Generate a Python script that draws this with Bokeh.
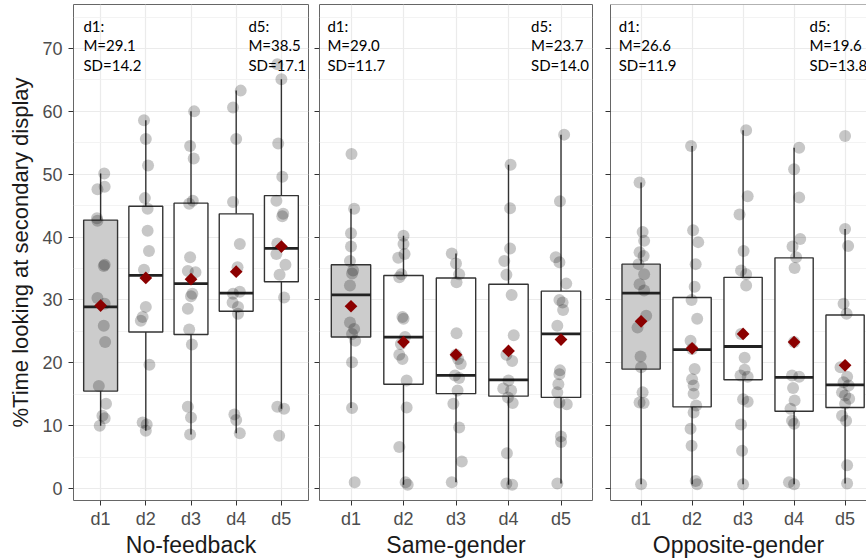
import math
from bokeh.plotting import figure
from bokeh.layouts import row
from bokeh.models import Range1d, FixedTicker, Span, ColumnDataSource
from bokeh.core.properties import value
from bokeh.embed import file_html
from bokeh.resources import INLINE

days = ["d1", "d2", "d3", "d4", "d5"]
conditions = ["No-feedback", "Same-gender", "Opposite-gender"]
y_title = "%Time looking at secondary display"

# Box-plot summaries per condition (one value per day)
nf_lower = [10.0, 9.2, 8.6, 8.8, 12.7]
nf_q1 = [15.5, 24.9, 24.5, 28.2, 32.9]
nf_median = [28.9, 33.9, 32.6, 31.1, 38.2]
nf_q3 = [42.7, 44.9, 45.4, 43.7, 46.6]
nf_upper = [50.1, 58.6, 60.0, 63.3, 65.1]
nf_mean = [29.1, 33.5, 33.3, 34.5, 38.5]

sg_lower = [12.8, 0.6, 1.0, 0.6, 0.8]
sg_q1 = [24.1, 16.6, 15.1, 14.7, 14.5]
sg_median = [30.8, 24.1, 18.0, 17.3, 24.6]
sg_q3 = [35.6, 33.9, 33.5, 32.5, 31.4]
sg_upper = [44.5, 40.2, 37.4, 51.5, 56.3]
sg_mean = [29.0, 23.3, 21.3, 21.9, 23.7]

og_lower = [0.7, 0.7, 0.7, 0.7, 0.8]
og_q1 = [19.0, 13.0, 17.3, 12.3, 12.9]
og_median = [31.1, 22.1, 22.6, 17.7, 16.5]
og_q3 = [35.7, 30.4, 33.6, 36.7, 27.6]
og_upper = [48.7, 54.5, 57.0, 54.2, 41.3]
og_mean = [26.6, 22.3, 24.6, 23.3, 19.6]

# Standard deviations quoted for the first and last day
sd_first = [14.2, 11.7, 11.9]
sd_last = [17.1, 14.0, 13.8]

# Individual participants (value) and their horizontal jitter, per day
nf_values = [
    [50.1, 48.0, 47.6, 43.0, 42.6, 35.6, 35.4, 30.3, 29.4, 25.9, 23.3, 16.3, 13.5, 11.6, 11.2, 10.0],
    [58.6, 55.6, 51.4, 46.2, 44.5, 41.0, 37.8, 34.8, 28.9, 27.3, 26.7, 19.7, 10.5, 10.2, 9.2],
    [60.0, 54.5, 52.5, 45.8, 45.3, 36.8, 34.6, 34.4, 31.0, 30.6, 28.6, 25.3, 22.9, 13.0, 11.3, 8.6],
    [63.3, 60.6, 55.6, 45.6, 38.9, 35.2, 31.3, 31.0, 29.6, 28.9, 27.8, 11.8, 10.9, 8.8],
    [67.5, 65.1, 54.9, 49.6, 45.8, 43.7, 43.3, 39.0, 37.3, 35.6, 34.0, 30.4, 13.0, 12.7, 8.4],
]
nf_jitter = [
    [0.08, 0.09, -0.07, -0.08, -0.07, 0.09, 0.07, -0.07, 0.09, 0.07, 0.10, -0.04, 0.12, 0.04, 0.09, -0.02],
    [-0.04, 0.0, 0.05, -0.02, 0.04, 0.04, 0.07, -0.04, 0.0, -0.07, -0.11, 0.08, -0.07, 0.02, 0.0],
    [0.07, -0.02, 0.06, 0.04, -0.04, -0.02, -0.07, 0.10, 0.03, 0.0, -0.07, -0.04, 0.02, -0.07, 0.0, -0.02],
    [0.10, -0.07, 0.0, -0.07, 0.08, 0.03, 0.08, -0.07, -0.08, 0.04, 0.04, -0.04, 0.0, 0.08],
    [-0.09, 0.0, -0.07, 0.02, -0.11, 0.04, 0.02, -0.09, -0.11, 0.09, -0.04, 0.06, -0.09, 0.06, -0.05],
]

sg_values = [
    [53.2, 44.5, 40.6, 38.5, 36.2, 34.7, 34.2, 32.3, 26.4, 25.4, 24.6, 23.5, 20.1, 12.8, 1.0],
    [40.2, 38.9, 37.3, 36.7, 34.1, 33.6, 27.3, 27.0, 24.1, 23.0, 21.3, 20.6, 17.2, 12.9, 6.6, 1.0, 0.6],
    [37.4, 35.8, 34.1, 32.8, 24.7, 21.3, 20.6, 19.8, 18.0, 17.6, 15.6, 13.5, 9.7, 4.3, 1.0],
    [51.5, 44.6, 38.2, 36.2, 34.0, 30.8, 24.4, 21.3, 20.3, 17.2, 15.9, 15.6, 14.5, 13.6, 5.6, 0.8, 0.6],
    [56.3, 45.7, 36.8, 36.0, 32.6, 30.0, 29.6, 28.4, 25.9, 18.8, 18.2, 16.6, 15.3, 13.7, 13.4, 8.3, 7.4, 0.8],
]
sg_jitter = [
    [0.01, 0.06, 0.0, 0.0, -0.02, 0.04, 0.02, -0.02, -0.02, 0.06, 0.02, 0.08, 0.02, 0.02, 0.07],
    [0.0, 0.0, 0.02, -0.10, -0.04, -0.08, -0.02, 0.0, 0.03, -0.05, -0.08, -0.02, 0.06, 0.06, -0.08, 0.04, 0.08],
    [-0.08, 0.0, 0.06, 0.01, 0.01, 0.0, 0.04, 0.09, -0.02, 0.06, 0.03, -0.05, 0.06, 0.11, -0.08],
    [0.04, 0.03, 0.03, -0.08, -0.04, 0.06, 0.10, -0.04, 0.07, 0.0, -0.10, 0.05, -0.01, 0.08, -0.03, -0.04, 0.07],
    [0.06, -0.02, -0.10, -0.03, 0.10, -0.03, 0.03, 0.04, -0.07, -0.02, -0.03, -0.05, -0.07, -0.03, 0.11, 0.0, 0.0, -0.07],
]

og_values = [
    [48.7, 40.8, 39.4, 37.6, 37.0, 35.7, 34.1, 32.5, 31.5, 27.5, 25.6, 21.0, 19.3, 15.3, 13.7, 13.6, 0.7],
    [54.5, 41.1, 39.2, 35.7, 32.1, 30.0, 27.0, 23.5, 22.2, 19.0, 17.4, 16.4, 15.1, 13.2, 12.1, 9.5, 6.8, 1.2, 0.7],
    [57.0, 46.5, 43.6, 37.8, 34.7, 34.1, 32.3, 24.6, 20.8, 18.9, 18.0, 17.8, 14.2, 13.8, 10.2, 6.0, 0.7],
    [54.2, 50.8, 46.3, 39.7, 38.5, 36.8, 35.1, 23.3, 18.0, 17.8, 16.0, 14.0, 12.7, 10.8, 10.3, 1.0, 0.7],
    [56.1, 41.3, 38.6, 29.4, 27.8, 19.3, 17.8, 16.9, 16.4, 15.3, 14.8, 14.3, 13.5, 11.6, 10.8, 3.7, 0.8],
]
og_jitter = [
    [-0.03, 0.03, 0.06, -0.03, 0.05, -0.05, 0.06, -0.03, 0.06, 0.10, -0.07, -0.01, 0.0, 0.03, -0.03, 0.05, 0.0],
    [-0.02, 0.02, 0.12, 0.07, 0.05, -0.01, 0.10, -0.03, 0.0, 0.05, 0.0, 0.03, 0.03, 0.08, 0.03, -0.03, -0.01, 0.07, 0.10],
    [0.06, 0.09, -0.07, 0.01, -0.04, 0.06, 0.06, -0.04, 0.03, 0.03, -0.05, 0.09, 0.0, 0.09, -0.04, -0.02, 0.0],
    [0.10, 0.0, 0.10, 0.12, -0.03, 0.04, 0.01, 0.0, -0.04, 0.10, -0.02, 0.01, -0.07, -0.04, 0.0, -0.10, 0.0],
    [0.0, 0.0, 0.06, -0.03, 0.03, -0.09, 0.04, -0.03, 0.07, -0.06, 0.0, 0.08, 0.0, -0.06, 0.02, 0.04, 0.04],
]

panels = [
    dict(lower=nf_lower, q1=nf_q1, median=nf_median, q3=nf_q3, upper=nf_upper, mean=nf_mean,
         values=nf_values, jitter=nf_jitter),
    dict(lower=sg_lower, q1=sg_q1, median=sg_median, q3=sg_q3, upper=sg_upper, mean=sg_mean,
         values=sg_values, jitter=sg_jitter),
    dict(lower=og_lower, q1=og_q1, median=og_median, q3=og_q3, upper=og_upper, mean=og_mean,
         values=og_values, jitter=og_jitter),
]

# layout of the three facets: canvas width, borders, right end of x range, note positions
layout = [
    dict(width=312, left=73, right=4, x_end=5.6, note_x=(0.62, 4.27)),
    dict(width=288, left=7, right=8, x_end=5.6, note_x=(0.55, 4.43)),
    dict(width=266, left=10, right=0, x_end=5.42, note_x=(0.56, 4.30)),
]

Y_START, Y_END = -1.9, 77.0
BOX_W = 0.75
LINE = "#333333"
BORDER = "#666666"
TICK_FONT = "Liberation Sans"
NOTE_FONT = "Lato"
y_major = list(range(0, 71, 10))
y_minor = list(range(5, 76, 10))


def make_panel(idx):
    d = panels[idx]
    lay = layout[idx]
    p = figure(width=lay["width"], height=560,
               x_range=Range1d(0.4, lay["x_end"]), y_range=Range1d(Y_START, Y_END),
               output_backend="svg", toolbar_location=None,
               min_border_left=lay["left"], min_border_right=lay["right"],
               min_border_top=4, min_border_bottom=60,
               background_fill_color="white", border_fill_color="white")

    xs = list(range(1, len(days) + 1))
    p.xaxis.ticker = FixedTicker(ticks=xs)
    p.xaxis.major_label_overrides = {x: lab for x, lab in zip(xs, days)}

    p.xgrid.grid_line_color = "#ebebeb"
    p.xgrid.grid_line_width = 1.2
    p.ygrid.ticker = FixedTicker(ticks=y_major, minor_ticks=y_minor)
    p.ygrid.grid_line_color = "#ebebeb"
    p.ygrid.grid_line_width = 1.2
    p.ygrid.minor_grid_line_color = "#f0f0f0"
    p.ygrid.minor_grid_line_width = 0.8

    for ax in (p.xaxis[0], p.yaxis[0]):
        ax.axis_line_color = None
        ax.major_tick_line_color = LINE
        ax.major_tick_line_width = 1
        ax.major_tick_out = 5
        ax.major_tick_in = 0
        ax.minor_tick_line_color = None
        ax.major_label_text_font = TICK_FONT
        ax.major_label_text_font_size = "18px"
        ax.major_label_text_color = "#4d4d4d"
        ax.axis_label_text_font = TICK_FONT
        ax.axis_label_text_font_style = "normal"
        ax.axis_label_text_color = "#1a1a1a"

    # facet title under the day labels
    p.xaxis.axis_label = conditions[idx]
    p.xaxis.axis_label_text_font_size = "23px"
    p.xaxis.major_label_standoff = 3
    p.xaxis.axis_label_standoff = 0

    if idx == 0:
        p.yaxis.ticker = FixedTicker(ticks=y_major, minor_ticks=y_minor)
        p.yaxis.axis_label = y_title
        p.yaxis.axis_label_text_font_size = "22px"
        p.yaxis.major_label_standoff = 6
        p.yaxis.axis_label_standoff = 6
    else:
        # unlabelled facets: tick marks only (drawn as minor ticks, which carry no labels)
        p.yaxis.ticker = FixedTicker(ticks=[], minor_ticks=y_major)
        p.yaxis.minor_tick_line_color = LINE
        p.yaxis.minor_tick_line_width = 1
        p.yaxis.minor_tick_out = 5
        p.yaxis.minor_tick_in = 0

    if idx < 2:
        p.outline_line_color = BORDER
        p.outline_line_width = 1
    else:
        # the last facet runs past the canvas edge: draw only left, top and bottom edges
        p.outline_line_color = None
        for ax in (p.xaxis[0], p.yaxis[0]):
            ax.axis_line_color = BORDER
            ax.axis_line_width = 1
        p.add_layout(Span(location=Y_END, dimension="width", line_color=BORDER, line_width=1))

    fills = ["#cccccc"] + ["white"] * (len(days) - 1)
    src = ColumnDataSource(dict(
        x=xs, lower=d["lower"], q1=d["q1"], median=d["median"], q3=d["q3"],
        upper=d["upper"], mean=d["mean"], fill=fills,
        mx0=[x - BOX_W / 2 for x in xs], mx1=[x + BOX_W / 2 for x in xs],
    ))

    # whiskers
    p.segment(x0="x", y0="q3", x1="x", y1="upper", source=src, line_color=LINE, line_width=1.4)
    p.segment(x0="x", y0="lower", x1="x", y1="q1", source=src, line_color=LINE, line_width=1.4)
    # boxes and medians
    p.vbar(x="x", width=BOX_W, bottom="q1", top="q3", source=src,
           fill_color="fill", line_color=LINE, line_width=1.4)
    p.segment(x0="mx0", y0="median", x1="mx1", y1="median", source=src,
              line_color="#222222", line_width=2.8)

    # jittered participants
    px, py = [], []
    for i, (vals, jit) in enumerate(zip(d["values"], d["jitter"])):
        for v, j in zip(vals, jit):
            px.append(xs[i] + j)
            py.append(v)
    p.scatter(px, py, size=12, fill_color="black", fill_alpha=0.22, line_color=None)

    # means
    p.scatter(x="x", y="mean", source=src, marker="square", angle=math.pi / 4, size=9,
              fill_color="#8b0000", line_color=None)

    # first/last day summaries
    nx0, nx1 = lay["note_x"]
    texts = ["d1:", "M=%.1f" % d["mean"][0], "SD=%.1f" % sd_first[idx],
             "d5:", "M=%.1f" % d["mean"][-1], "SD=%.1f" % sd_last[idx]]
    tys = [73.6, 70.5, 67.4] * 2
    txs = [nx0] * 3 + [nx1] * 3
    p.text(x=txs, y=tys, text=texts, text_font=value(NOTE_FONT), text_font_size="15px",
           text_color="black", text_baseline="alphabetic", text_align="left")
    return p


figs = [make_panel(i) for i in range(3)]
layout_row = row(*figs, spacing=0)
open("out.html", "w").write(file_html(layout_row, INLINE))
